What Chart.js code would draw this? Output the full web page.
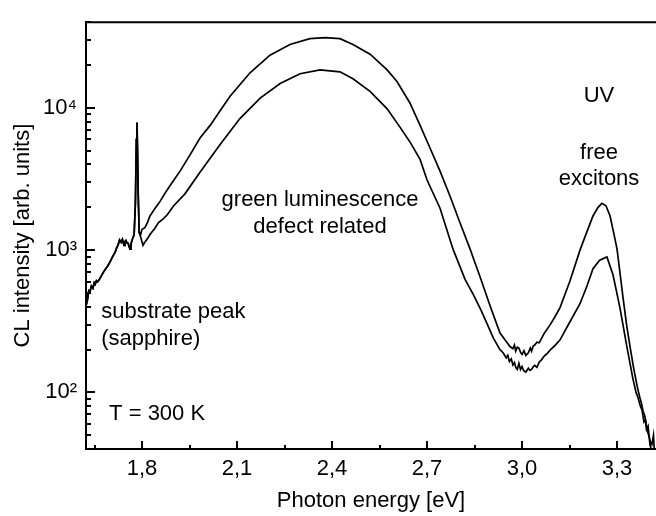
<!DOCTYPE html>
<html>
<head>
<meta charset="utf-8">
<script src="https://cdn.jsdelivr.net/npm/chart.js@4.4.1/dist/chart.umd.min.js"></script>
<style>
  html, body { margin: 0; padding: 0; background: #fff; overflow: hidden; }
  #wrap { width: 656px; height: 516px; }
</style>
</head>
<body>
<div id="wrap"><canvas id="clChart" width="656" height="516"></canvas></div>
<script>
// CL spectra, photon energy [eV] vs intensity [arb. units]
const energyUpper = [
  1.623, 1.626, 1.628, 1.632, 1.636, 1.640, 1.645, 1.649, 1.652, 1.656, 1.660, 1.667, 1.675, 1.683,
  1.691, 1.699, 1.707, 1.715, 1.720, 1.724, 1.729, 1.734, 1.738, 1.743, 1.746, 1.749, 1.753, 1.756,
  1.759, 1.762, 1.765, 1.768, 1.772, 1.775, 1.779, 1.782, 1.784, 1.786, 1.788, 1.791, 1.796, 1.800,
  1.809, 1.817, 1.825, 1.840, 1.857, 1.872, 1.888, 1.920, 1.952, 1.983, 2.015, 2.046, 2.078, 2.141,
  2.204, 2.267, 2.330, 2.378, 2.425, 2.466, 2.520, 2.574, 2.605, 2.646, 2.678, 2.709, 2.741, 2.773,
  2.804, 2.836, 2.867, 2.899, 2.930, 2.950, 2.962, 2.971, 2.976, 2.980, 2.985, 2.990, 2.996, 3.000,
  3.006, 3.012, 3.020, 3.026, 3.030, 3.035, 3.040, 3.047, 3.054, 3.070, 3.088, 3.104, 3.120, 3.151,
  3.183, 3.205, 3.224, 3.240, 3.252, 3.265, 3.278, 3.290, 3.300, 3.319, 3.330, 3.341, 3.352, 3.363,
  3.368, 3.372, 3.377, 3.382, 3.388, 3.393, 3.398, 3.404, 3.410
];
const intensityUpper = [
  476, 500, 455, 520, 515, 560, 540, 590, 575, 610, 600, 632, 680, 729,
  770, 828, 900, 969, 1040, 1081, 1180, 1135, 1190, 1081, 1150, 1169, 1120, 1116,
  1060, 1016, 1100, 1169, 1230, 1288, 2133, 6000, 7890, 4690, 2400, 1330, 1300, 1400,
  1438, 1560, 1738, 1950, 2200, 2500, 2831, 3590, 4690, 6130, 7530, 9500, 12080, 17650,
  23440, 27870, 30630, 31120, 30630, 27870, 23820, 18490, 15310, 10820, 7530, 5240, 3590, 2380,
  1556, 1016, 653, 407, 262, 228, 210, 203, 215, 195, 208, 205, 190, 185,
  196, 182, 190, 205, 195, 212, 215, 225, 223, 260, 297, 340, 394, 604,
  1000, 1350, 1738, 2000, 2133, 2050, 1738, 1300, 1016, 461, 300, 210, 150, 112,
  100, 92, 84, 74, 68, 55, 58, 43, 38
];
const energyLower = [
  1.623, 1.626, 1.628, 1.632, 1.636, 1.640, 1.645, 1.649, 1.652, 1.656, 1.660, 1.667, 1.675, 1.683,
  1.691, 1.699, 1.707, 1.715, 1.720, 1.724, 1.729, 1.734, 1.738, 1.743, 1.746, 1.749, 1.753, 1.756,
  1.759, 1.762, 1.765, 1.768, 1.772, 1.775, 1.779, 1.782, 1.784, 1.786, 1.788, 1.791, 1.797, 1.803,
  1.808, 1.813, 1.820, 1.825, 1.840, 1.852, 1.866, 1.879, 1.900, 1.936, 1.983, 2.046, 2.109, 2.173,
  2.236, 2.299, 2.362, 2.425, 2.466, 2.520, 2.574, 2.615, 2.646, 2.678, 2.700, 2.741, 2.782, 2.820,
  2.845, 2.870, 2.889, 2.910, 2.930, 2.940, 2.950, 2.955, 2.960, 2.966, 2.971, 2.976, 2.980, 2.985,
  2.990, 2.995, 3.000, 3.005, 3.012, 3.020, 3.025, 3.030, 3.036, 3.040, 3.047, 3.054, 3.062, 3.070,
  3.080, 3.090, 3.105, 3.120, 3.150, 3.183, 3.205, 3.224, 3.245, 3.268, 3.287, 3.309, 3.331, 3.350,
  3.360, 3.366, 3.373, 3.379, 3.385, 3.390, 3.395, 3.400, 3.405, 3.410, 3.415, 3.418
];
const intensityLower = [
  476, 500, 455, 520, 515, 560, 540, 590, 575, 610, 600, 632, 680, 729,
  770, 828, 900, 969, 1040, 1081, 1180, 1135, 1190, 1081, 1150, 1169, 1120, 1116,
  1060, 1016, 1100, 1169, 1230, 1288, 2133, 6000, 7890, 4690, 2400, 1330, 1208, 1081,
  1130, 1170, 1230, 1288, 1420, 1560, 1650, 1766, 2050, 2496, 3530, 5495, 8410, 11700,
  14830, 17380, 18490, 17920, 16030, 13070, 9840, 7290, 5760, 4340, 3110, 1971, 1016, 623,
  492, 380, 306, 240, 200, 190, 175, 182, 165, 172, 156, 162, 150, 145,
  160, 145, 152, 142, 139, 148, 143, 145, 152, 155, 150, 163, 170, 180,
  188, 200, 215, 234, 310, 420, 560, 741, 850, 895, 675, 394, 210, 125,
  100, 92, 81, 75, 62, 64, 54, 50, 45, 43, 50, 38
];

const xMajorTicks = [1.8, 2.1, 2.4, 2.7, 3.0, 3.3];
const xMinorTicks = [1.65, 1.95, 2.25, 2.55, 2.85, 3.15];
const yMajorTicks = [100, 1000, 10000];
const yMinorTicks = [40, 50, 60, 70, 80, 90, 200, 300, 400, 500, 600, 700, 800, 900,
  2000, 3000, 4000, 5000, 6000, 7000, 8000, 9000, 20000, 30000, 40000];
const yTickLabels = ["10²", "10³", "10⁴"];

// text notes placed in data coordinates (energy, intensity)
const notes = [
  { text: "UV", x: 3.243, y: 12080, align: "center" },
  { text: "free", x: 3.243, y: 4840, align: "center" },
  { text: "excitons", x: 3.243, y: 3162, align: "center" },
  { text: "green luminescence", x: 2.362, y: 2270, align: "center" },
  { text: "defect related", x: 2.362, y: 1459, align: "center" },
  { text: "substrate peak", x: 1.671, y: 370, align: "left" },
  { text: "(sapphire)", x: 1.671, y: 238, align: "left" },
  { text: "T = 300 K", x: 1.696, y: 70.6, align: "left" }
];

const FONT = "'Liberation Sans', Arial, Helvetica, sans-serif";
const toPoints = (xs, ys) => xs.map((x, i) => ({ x: x, y: ys[i] }));

const frameAndTicks = {
  id: "frameAndTicks",
  afterDraw(chart) {
    const ctx = chart.ctx;
    const area = chart.chartArea;
    const xs = chart.scales.x;
    const ys = chart.scales.y;
    ctx.save();
    ctx.strokeStyle = "#000";
    // top frame line
    ctx.lineWidth = 2;
    ctx.beginPath();
    ctx.moveTo(area.left, area.top);
    ctx.lineTo(area.right, area.top);
    ctx.stroke();
    // inward ticks
    ctx.beginPath();
    xMajorTicks.forEach(v => {
      const p = Math.round(xs.getPixelForValue(v));
      ctx.moveTo(p, area.bottom); ctx.lineTo(p, area.bottom - 8);
    });
    xMinorTicks.forEach(v => {
      const p = Math.round(xs.getPixelForValue(v));
      ctx.moveTo(p, area.bottom); ctx.lineTo(p, area.bottom - 4);
    });
    yMajorTicks.forEach(v => {
      const p = Math.round(ys.getPixelForValue(v));
      ctx.moveTo(area.left, p); ctx.lineTo(area.left + 9, p);
    });
    yMinorTicks.forEach(v => {
      const p = Math.round(ys.getPixelForValue(v));
      ctx.moveTo(area.left, p); ctx.lineTo(area.left + 5, p);
    });
    ctx.stroke();
    // notes
    ctx.fillStyle = "#000";
    ctx.font = "22px " + FONT;
    ctx.textBaseline = "middle";
    notes.forEach(n => {
      ctx.textAlign = n.align;
      ctx.fillText(n.text, xs.getPixelForValue(n.x), ys.getPixelForValue(n.y));
    });
    ctx.restore();
  }
};

new Chart(document.getElementById("clChart").getContext("2d"), {
  type: "line",
  data: {
    datasets: [
      {
        label: "upper",
        data: toPoints(energyUpper, intensityUpper),
        borderColor: "#000",
        borderWidth: 1.7,
        pointRadius: 0,
        tension: 0,
        fill: false
      },
      {
        label: "lower",
        data: toPoints(energyLower, intensityLower),
        borderColor: "#000",
        borderWidth: 1.7,
        pointRadius: 0,
        tension: 0,
        fill: false
      }
    ]
  },
  options: {
    responsive: false,
    animation: false,
    devicePixelRatio: 1,
    layout: { padding: { top: 13, right: 0, bottom: 0, left: 0 } },
    plugins: {
      legend: { display: false },
      tooltip: { enabled: false }
    },
    scales: {
      x: {
        type: "linear",
        min: 1.623,
        max: 3.423,
        afterBuildTicks: s => { s.ticks = xMajorTicks.map(v => ({ value: v })); },
        afterFit: s => { s.height = 67; },
        grid: { display: false, drawTicks: false },
        border: { display: true, color: "#000", width: 2 },
        ticks: {
          color: "#000",
          padding: 7,
          maxRotation: 0,
          font: { family: FONT, size: 22 },
          callback: v => v.toFixed(1).replace(".", ",")
        },
        title: {
          display: true,
          text: "Photon energy [eV]",
          color: "#000",
          padding: 2,
          font: { family: FONT, size: 22 }
        }
      },
      y: {
        type: "logarithmic",
        min: 40,
        max: 40000,
        afterBuildTicks: s => { s.ticks = yMajorTicks.map(v => ({ value: v })); },
        afterFit: s => { s.width = 86; },
        grid: { display: false, drawTicks: false },
        border: { display: true, color: "#000", width: 2 },
        ticks: {
          color: "#000",
          padding: 9,
          font: { family: FONT, size: 22 },
          callback: v => yTickLabels[Math.round(Math.log10(v)) - 2]
        },
        title: {
          display: true,
          text: "CL intensity [arb. units]",
          color: "#000",
          padding: { top: 10, bottom: 0 },
          font: { family: FONT, size: 22 }
        }
      }
    }
  },
  plugins: [frameAndTicks]
});
</script>
</body>
</html>
